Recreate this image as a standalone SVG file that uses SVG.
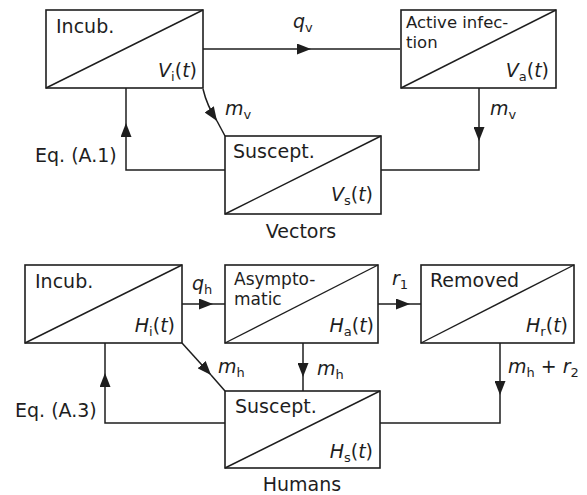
<svg xmlns="http://www.w3.org/2000/svg" width="587" height="495" viewBox="0 0 587 495">
<style>
.box{fill:#fff;stroke:#1e1e1e;stroke-width:1.6}
.dg{stroke:#1e1e1e;stroke-width:1.4;fill:none}
.ln{stroke:#1e1e1e;stroke-width:1.5;fill:none}
text{font-family:"DejaVu Sans","Liberation Sans",sans-serif;font-size:19px;fill:#1e1e1e}
.sm{font-size:16.5px}
.sm2{font-size:17px}
.it{font-style:italic}
.sb{font-size:13px;font-style:normal}
.m{text-anchor:end}
</style>
<defs>
<marker id="ah" viewBox="0 0 14 11" refX="14" refY="5.5" markerWidth="14" markerHeight="11" markerUnits="userSpaceOnUse" orient="auto">
<path d="M0,0 L14,5.5 L0,11 z" fill="#1e1e1e"/>
</marker>
</defs>

<g id="connectors">
<path class="ln" d="M203,49 H311" marker-end="url(#ah)"/>
<path class="ln" d="M311,49 H400"/>
<path class="ln" d="M203,89 Q207,106 217,121" marker-end="url(#ah)"/>
<path class="ln" d="M217,121 L225,136"/>
<path class="ln" d="M479,88 V141" marker-end="url(#ah)"/>
<path class="ln" d="M479,141 V170 H381"/>
<path class="ln" d="M225,170 H126 V123" marker-end="url(#ah)"/>
<path class="ln" d="M126,123 V88"/>

<path class="ln" d="M182,304 H213" marker-end="url(#ah)"/>
<path class="ln" d="M213,304 H225"/>
<path class="ln" d="M378,304 H410" marker-end="url(#ah)"/>
<path class="ln" d="M410,304 H421"/>
<path class="ln" d="M182,343 L211,375" marker-end="url(#ah)"/>
<path class="ln" d="M211,375 L225,391"/>
<path class="ln" d="M303,343 V377" marker-end="url(#ah)"/>
<path class="ln" d="M303,377 V391"/>
<path class="ln" d="M500,343 V395" marker-end="url(#ah)"/>
<path class="ln" d="M500,395 V423 H380"/>
<path class="ln" d="M225,423 H105 V373" marker-end="url(#ah)"/>
<path class="ln" d="M105,373 V343"/>
</g>

<g id="Vi">
<rect class="box" x="46" y="10" width="157" height="78"/>
<line class="dg" x1="46" y1="88" x2="203" y2="10"/>
<text x="56" y="33">Incub.</text>
<text class="m it" x="197" y="77">V<tspan class="sb" dy="4">i</tspan><tspan dy="-4" font-style="normal">(</tspan>t<tspan font-style="normal">)</tspan></text>
</g>

<g id="Va">
<rect class="box" x="401" y="10" width="155" height="78"/>
<line class="dg" x1="401" y1="88" x2="556" y2="10"/>
<text class="sm"><tspan x="406" y="28">Active infec-</tspan><tspan x="406" dy="19.5">tion</tspan></text>
<text class="m it" x="549" y="77">V<tspan class="sb" dy="4">a</tspan><tspan dy="-4" font-style="normal">(</tspan>t<tspan font-style="normal">)</tspan></text>
</g>

<g id="Vs">
<rect class="box" x="225" y="136" width="156" height="78"/>
<line class="dg" x1="225" y1="214" x2="381" y2="136"/>
<text x="233" y="158">Suscept.</text>
<text class="m it" x="373" y="201">V<tspan class="sb" dy="4">s</tspan><tspan dy="-4" font-style="normal">(</tspan>t<tspan font-style="normal">)</tspan></text>
</g>

<g id="Hi">
<rect class="box" x="25" y="265" width="157" height="78"/>
<line class="dg" x1="25" y1="343" x2="182" y2="265"/>
<text x="35" y="288">Incub.</text>
<text class="m it" x="175" y="332">H<tspan class="sb" dy="4">i</tspan><tspan dy="-4" font-style="normal">(</tspan>t<tspan font-style="normal">)</tspan></text>
</g>

<g id="Ha">
<rect class="box" x="225" y="265" width="153" height="78"/>
<line class="dg" x1="225" y1="343" x2="378" y2="265"/>
<text class="sm2"><tspan x="234" y="285">Asympto-</tspan><tspan x="234" dy="20">matic</tspan></text>
<text class="m it" x="374" y="332">H<tspan class="sb" dy="4">a</tspan><tspan dy="-4" font-style="normal">(</tspan>t<tspan font-style="normal">)</tspan></text>
</g>

<g id="Hr">
<rect class="box" x="421" y="265" width="153" height="78"/>
<line class="dg" x1="421" y1="343" x2="574" y2="265"/>
<text x="430" y="287">Removed</text>
<text class="m it" x="568" y="332">H<tspan class="sb" dy="4">r</tspan><tspan dy="-4" font-style="normal">(</tspan>t<tspan font-style="normal">)</tspan></text>
</g>

<g id="Hs">
<rect class="box" x="225" y="391" width="155" height="77"/>
<line class="dg" x1="225" y1="468" x2="380" y2="391"/>
<text x="235" y="413">Suscept.</text>
<text class="m it" x="373" y="458">H<tspan class="sb" dy="4">s</tspan><tspan dy="-4" font-style="normal">(</tspan>t<tspan font-style="normal">)</tspan></text>
</g>

<g id="labels">
<text class="it" x="293" y="28">q<tspan class="sb" dy="4">v</tspan></text>
<text class="it" x="225" y="115">m<tspan class="sb" dy="4">v</tspan></text>
<text class="it" x="490" y="115">m<tspan class="sb" dy="4">v</tspan></text>
<text x="35" y="162">Eq. (A.1)</text>
<text x="301" y="238" text-anchor="middle">Vectors</text>
<text class="it" x="192" y="290">q<tspan class="sb" dy="4">h</tspan></text>
<text class="it" x="392" y="285">r<tspan class="sb" dy="4">1</tspan></text>
<text class="it" x="218" y="373">m<tspan class="sb" dy="4">h</tspan></text>
<text class="it" x="317" y="375">m<tspan class="sb" dy="4">h</tspan></text>
<text class="it" x="508" y="373">m<tspan class="sb" dy="4">h</tspan><tspan dy="-4" font-style="normal"> + </tspan>r<tspan class="sb" dy="4">2</tspan></text>
<text x="15" y="417">Eq. (A.3)</text>
<text x="302" y="491" text-anchor="middle">Humans</text>
</g>
</svg>
